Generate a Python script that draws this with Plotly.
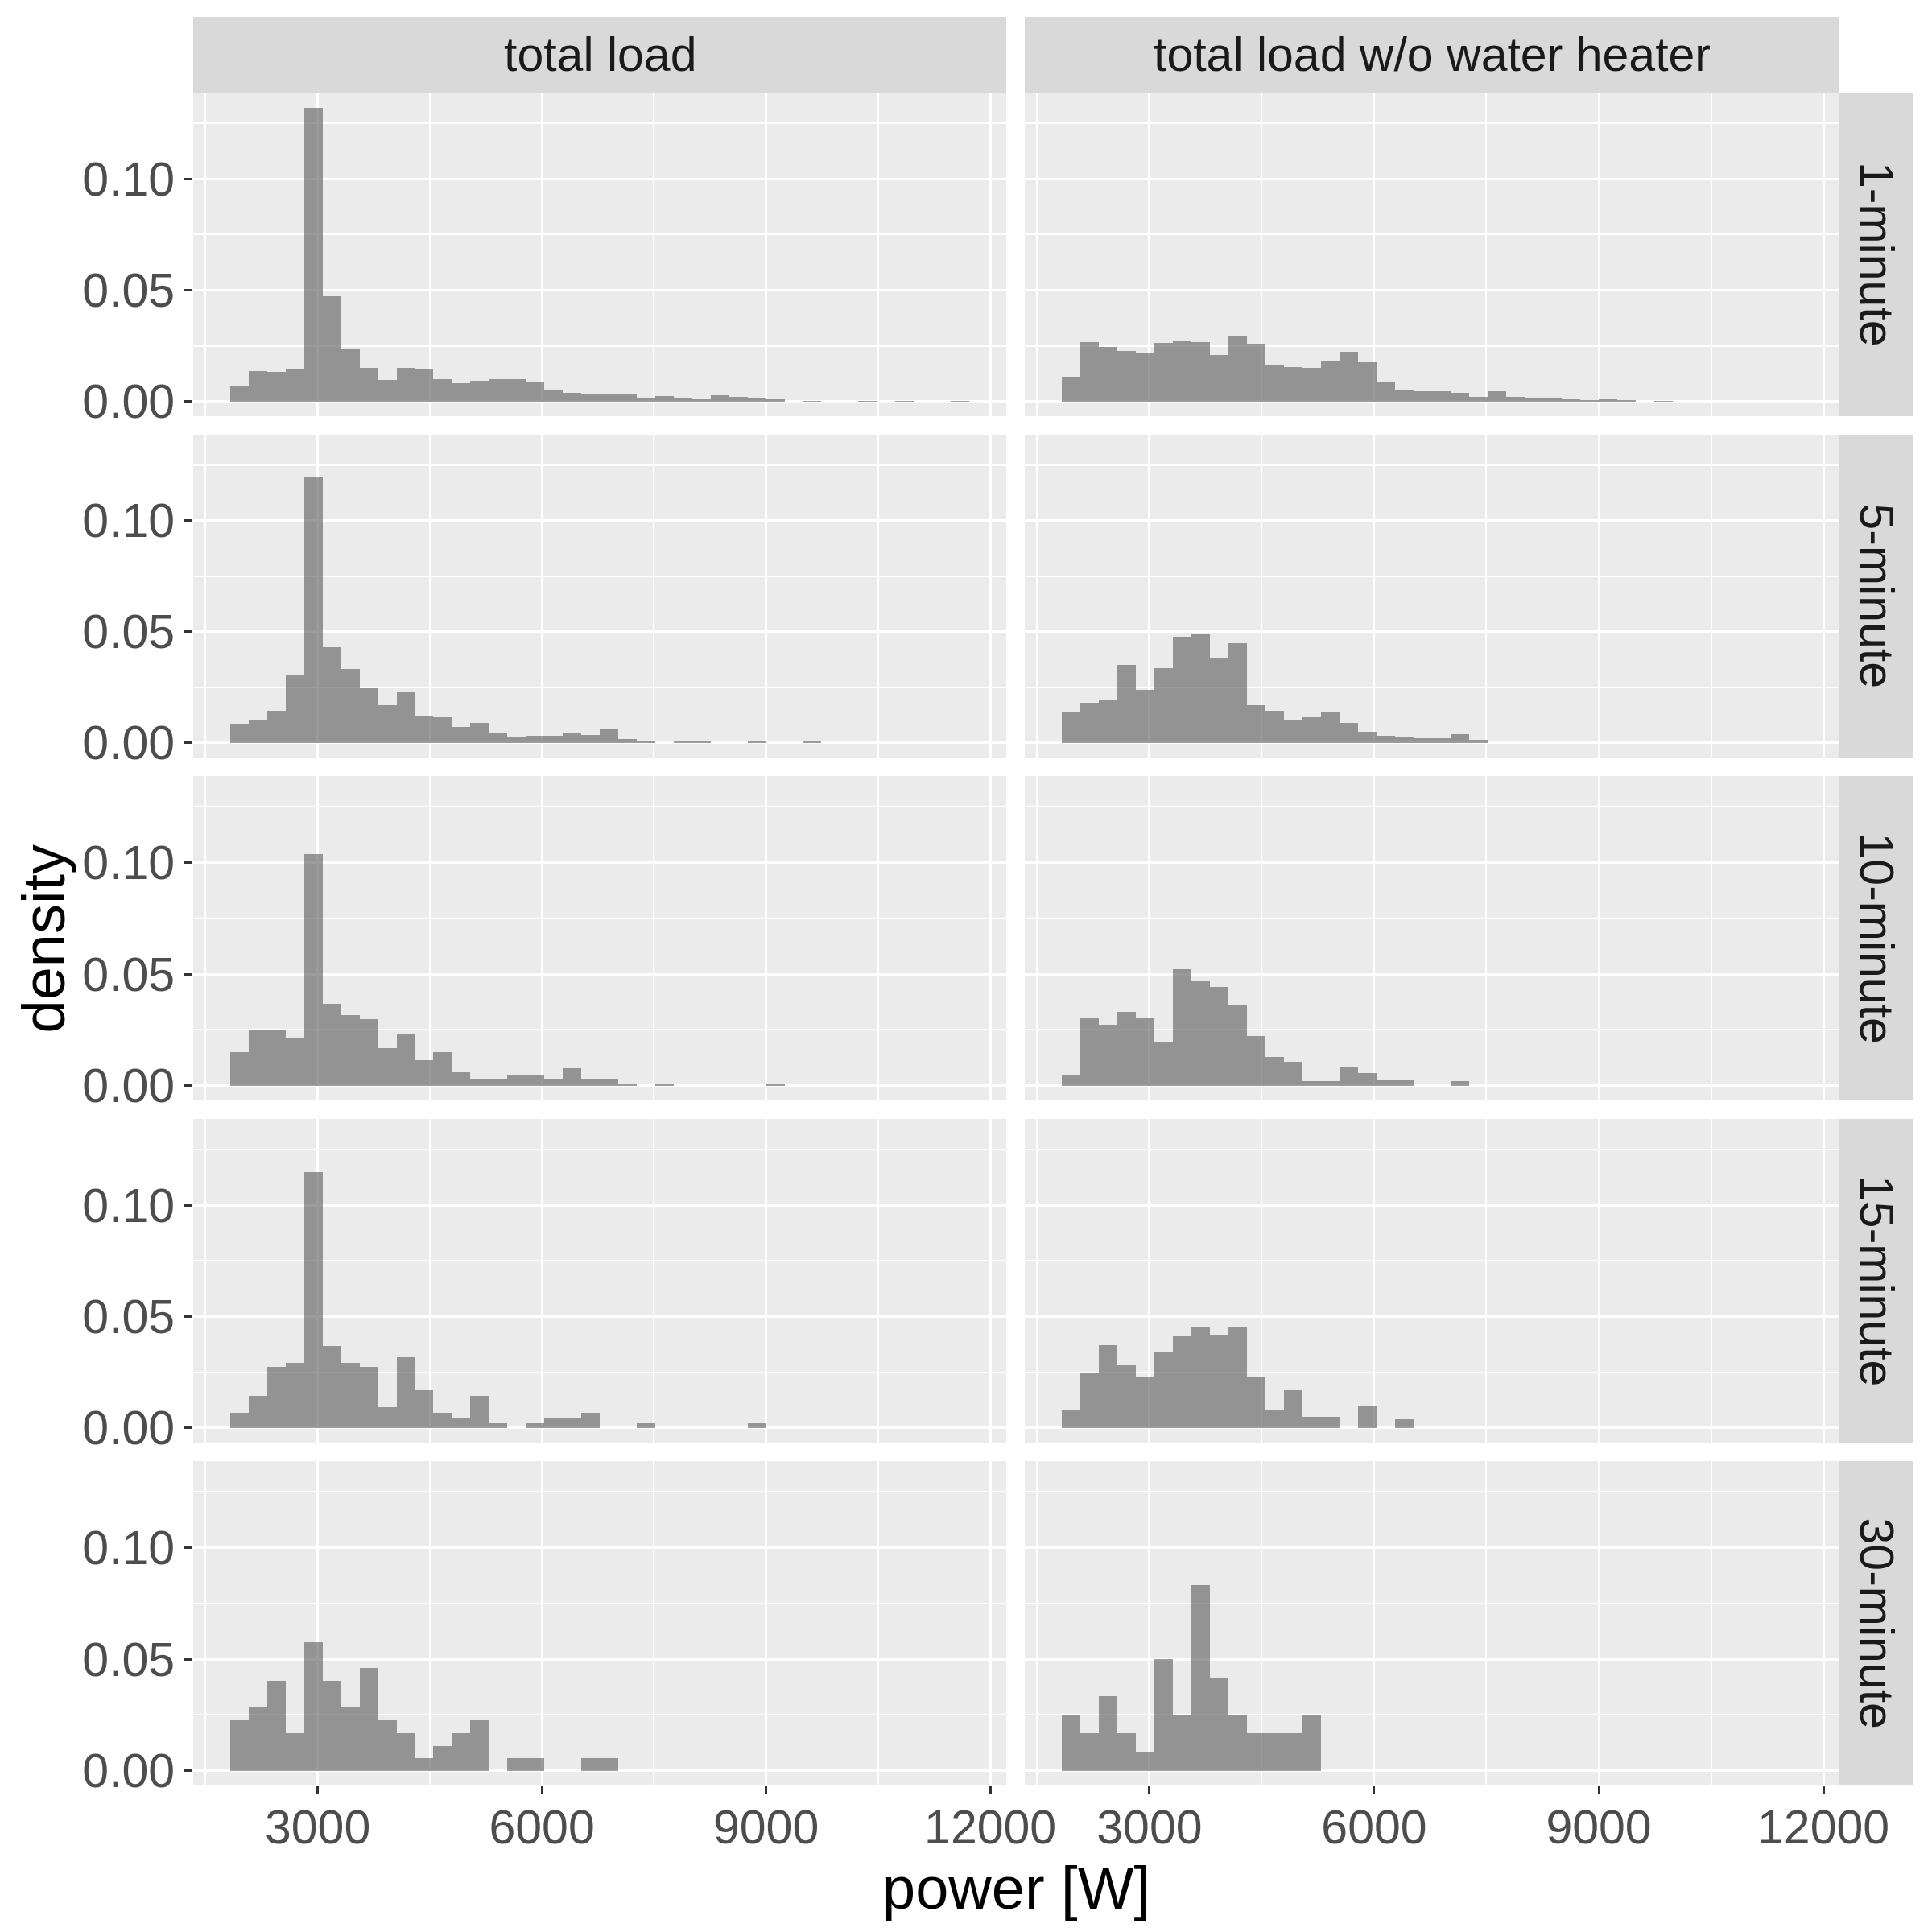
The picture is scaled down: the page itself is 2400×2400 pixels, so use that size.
import plotly.graph_objects as go

# ---------------- data ----------------
col_labels = ["total load", "total load w/o water heater"]
row_labels = ["1-minute", "5-minute", "10-minute", "15-minute", "30-minute"]

bin_start = 1829.5      # left edge of first bin [W]
bin_width = 247.25      # bin width [W]
n_bins = 40

x_tick_vals = [3000, 6000, 9000, 12000]
x_tick_text = ["3000", "6000", "9000", "12000"]
x_minor_vals = [1500, 4500, 7500, 10500]
y_tick_vals = [0.0, 0.05, 0.10]
y_tick_text = ["0.00", "0.05", "0.10"]
y_minor_vals = [0.025, 0.075, 0.125]

# density per bin, total load
total_1min = [0.0069, 0.0138, 0.0134, 0.0145, 0.1320, 0.0474, 0.0239, 0.0152, 0.0098, 0.0152,
              0.0145, 0.0101, 0.0083, 0.0094, 0.0101, 0.0101, 0.0087, 0.0051, 0.0040, 0.0033,
              0.0036, 0.0036, 0.0014, 0.0025, 0.0013, 0.0010, 0.0028, 0.0021, 0.0013, 0.0010,
              0.0, 0.0004, 0.0, 0.0, 0.0004, 0.0, 0.0004, 0.0, 0.0, 0.0004]
total_5min = [0.0087, 0.0105, 0.0145, 0.0305, 0.1200, 0.0429, 0.0331, 0.0247, 0.0171, 0.0229,
              0.0124, 0.0116, 0.0073, 0.0091, 0.0047, 0.0025, 0.0033, 0.0033, 0.0047, 0.0036,
              0.0062, 0.0018, 0.0007, 0.0, 0.0007, 0.0007, 0.0, 0.0, 0.0007, 0.0,
              0.0, 0.0007, 0.0, 0.0, 0.0, 0.0, 0.0, 0.0, 0.0, 0.0]
total_10min = [0.0152, 0.0246, 0.0246, 0.0214, 0.1036, 0.0366, 0.0315, 0.0297, 0.0167, 0.0232,
               0.0116, 0.0152, 0.0062, 0.0033, 0.0033, 0.0051, 0.0051, 0.0033, 0.0080, 0.0033,
               0.0033, 0.0011, 0.0, 0.0011, 0.0, 0.0, 0.0, 0.0, 0.0, 0.0011,
               0.0, 0.0, 0.0, 0.0, 0.0, 0.0, 0.0, 0.0, 0.0, 0.0]
total_15min = [0.0066, 0.0144, 0.0272, 0.0293, 0.1150, 0.0369, 0.0293, 0.0272, 0.0093, 0.0318,
               0.0169, 0.0066, 0.0045, 0.0144, 0.0019, 0.0, 0.0019, 0.0045, 0.0045, 0.0066,
               0.0, 0.0, 0.0019, 0.0, 0.0, 0.0, 0.0, 0.0, 0.0019, 0.0,
               0.0, 0.0, 0.0, 0.0, 0.0, 0.0, 0.0, 0.0, 0.0, 0.0]
total_30min = [0.0227, 0.0285, 0.0401, 0.0169, 0.0576, 0.0401, 0.0285, 0.0459, 0.0227, 0.0169,
               0.0056, 0.0110, 0.0169, 0.0227, 0.0, 0.0056, 0.0056, 0.0, 0.0, 0.0056,
               0.0056, 0.0, 0.0, 0.0, 0.0, 0.0, 0.0, 0.0, 0.0, 0.0,
               0.0, 0.0, 0.0, 0.0, 0.0, 0.0, 0.0, 0.0, 0.0, 0.0]

# density per bin, total load without water heater
nowh_1min = [0.0112, 0.0268, 0.0246, 0.0228, 0.0217, 0.0264, 0.0272, 0.0268, 0.0210, 0.0293,
             0.0260, 0.0167, 0.0156, 0.0150, 0.0180, 0.0222, 0.0175, 0.0090, 0.0055, 0.0045,
             0.0045, 0.0040, 0.0020, 0.0045, 0.0020, 0.0015, 0.0015, 0.0010, 0.0007, 0.0010,
             0.0005, 0.0, 0.0004, 0.0, 0.0, 0.0, 0.0, 0.0, 0.0, 0.0]
nowh_5min = [0.0142, 0.0182, 0.0193, 0.0349, 0.0240, 0.0338, 0.0476, 0.0490, 0.0380, 0.0447,
             0.0171, 0.0145, 0.0100, 0.0117, 0.0140, 0.0090, 0.0050, 0.0033, 0.0030, 0.0022,
             0.0022, 0.0040, 0.0015, 0.0, 0.0, 0.0, 0.0, 0.0, 0.0, 0.0,
             0.0, 0.0, 0.0, 0.0, 0.0, 0.0, 0.0, 0.0, 0.0, 0.0]
nowh_10min = [0.0051, 0.0302, 0.0273, 0.0330, 0.0300, 0.0193, 0.0523, 0.0468, 0.0443, 0.0363,
              0.0221, 0.0128, 0.0106, 0.0022, 0.0022, 0.0083, 0.0056, 0.0028, 0.0028, 0.0,
              0.0, 0.0022, 0.0, 0.0, 0.0, 0.0, 0.0, 0.0, 0.0, 0.0,
              0.0, 0.0, 0.0, 0.0, 0.0, 0.0, 0.0, 0.0, 0.0, 0.0]
nowh_15min = [0.0083, 0.0250, 0.0370, 0.0280, 0.0230, 0.0340, 0.0410, 0.0456, 0.0420, 0.0456,
              0.0230, 0.0078, 0.0170, 0.0048, 0.0048, 0.0, 0.0095, 0.0, 0.0038, 0.0,
              0.0, 0.0, 0.0, 0.0, 0.0, 0.0, 0.0, 0.0, 0.0, 0.0,
              0.0, 0.0, 0.0, 0.0, 0.0, 0.0, 0.0, 0.0, 0.0, 0.0]
nowh_30min = [0.0250, 0.0167, 0.0333, 0.0167, 0.0083, 0.0500, 0.0250, 0.0833, 0.0417, 0.0250,
              0.0167, 0.0167, 0.0167, 0.0250, 0.0, 0.0, 0.0, 0.0, 0.0, 0.0,
              0.0, 0.0, 0.0, 0.0, 0.0, 0.0, 0.0, 0.0, 0.0, 0.0,
              0.0, 0.0, 0.0, 0.0, 0.0, 0.0, 0.0, 0.0, 0.0, 0.0]

panel_data = [
    [total_1min, nowh_1min],
    [total_5min, nowh_5min],
    [total_10min, nowh_10min],
    [total_15min, nowh_15min],
    [total_30min, nowh_30min],
]

# ---------------- layout geometry (pixels in a 2400x2400 canvas) ----------------
W = H = 2400
col_px = [(240, 1250), (1273, 2285)]
row_px = [(115, 517), (540, 941), (964, 1367), (1390, 1792), (1815, 2218)]
strip_top = (21, 115)
strip_right = (2285, 2377)

FONT = "Liberation Sans, Arial, sans-serif"
TICK_SIZE = 59
TITLE_SIZE = 74
BAR_FILL = "rgba(89,89,89,0.6)"

x_range = [1335, 12214]
y_range = [-0.0066, 0.1387]

centers = [bin_start + (i + 0.5) * bin_width for i in range(n_bins)]

fig = go.Figure()
layout = dict(
    template="none",
    width=W, height=H, autosize=False,
    margin=dict(l=0, r=0, t=0, b=0, pad=0, autoexpand=False),
    paper_bgcolor="white", plot_bgcolor="#EBEBEB",
    showlegend=False, bargap=0, barmode="overlay",
)

for r in range(5):
    for c in range(2):
        i = r * 2 + c
        sfx = "" if i == 0 else str(i + 1)
        fig.add_trace(go.Bar(
            x=centers, y=panel_data[r][c], width=bin_width,
            marker=dict(color=BAR_FILL, line=dict(width=0)),
            xaxis="x" + sfx, yaxis="y" + sfx, hoverinfo="skip",
        ))
        x0, x1 = col_px[c]
        y0, y1 = row_px[r]
        bottom = (r == 4)
        left = (c == 0)
        layout["xaxis" + sfx] = dict(
            domain=[x0 / W, x1 / W], anchor="y" + sfx, range=x_range, automargin=False,
            tickmode="array", tickvals=x_tick_vals, ticktext=x_tick_text,
            showticklabels=bottom, ticks="outside" if bottom else "",
            ticklen=10, tickwidth=3, tickcolor="#333333", ticklabelstandoff=-10,
            tickfont=dict(family=FONT, size=TICK_SIZE, color="#4D4D4D"),
            showgrid=True, gridcolor="white", gridwidth=3.2,
            minor=dict(tickmode="array", tickvals=x_minor_vals, showgrid=True,
                       gridcolor="white", gridwidth=1.6, ticks=""),
            zeroline=False, showline=False, fixedrange=True,
        )
        layout["yaxis" + sfx] = dict(
            domain=[1 - y1 / H, 1 - y0 / H], anchor="x" + sfx, range=y_range, automargin=False,
            tickmode="array", tickvals=y_tick_vals, ticktext=y_tick_text,
            showticklabels=left, ticks="outside" if left else "",
            ticklen=10, tickwidth=3, tickcolor="#333333",
            tickfont=dict(family=FONT, size=TICK_SIZE, color="#4D4D4D"),
            showgrid=True, gridcolor="white", gridwidth=3.2,
            minor=dict(tickmode="array", tickvals=y_minor_vals, showgrid=True,
                       gridcolor="white", gridwidth=1.6, ticks=""),
            zeroline=False, showline=False, fixedrange=True,
        )

shapes = []
annotations = []
# top strips
for c in range(2):
    x0, x1 = col_px[c]
    shapes.append(dict(type="rect", xref="paper", yref="paper",
                       x0=x0 / W, x1=x1 / W, y0=1 - strip_top[1] / H, y1=1 - strip_top[0] / H,
                       fillcolor="#D9D9D9", line=dict(width=0), layer="below"))
    annotations.append(dict(xref="paper", yref="paper",
                            x=(x0 + x1) / 2 / W, y=1 - (strip_top[0] + strip_top[1]) / 2 / H,
                            text=col_labels[c], showarrow=False, xanchor="center", yanchor="middle",
                            font=dict(family=FONT, size=TICK_SIZE, color="#1A1A1A")))
# right strips
for r in range(5):
    y0, y1 = row_px[r]
    shapes.append(dict(type="rect", xref="paper", yref="paper",
                       x0=strip_right[0] / W, x1=strip_right[1] / W, y0=1 - y1 / H, y1=1 - y0 / H,
                       fillcolor="#D9D9D9", line=dict(width=0), layer="below"))
    annotations.append(dict(xref="paper", yref="paper",
                            x=(strip_right[0] + strip_right[1]) / 2 / W, y=1 - (y0 + y1) / 2 / H,
                            text=row_labels[r], showarrow=False, textangle=90,
                            xanchor="center", yanchor="middle",
                            font=dict(family=FONT, size=TICK_SIZE, color="#1A1A1A")))
# axis titles
annotations.append(dict(xref="paper", yref="paper", x=(240 + 2285) / 2 / W, y=1 - 2345 / H,
                        text="power [W]", showarrow=False, xanchor="center", yanchor="middle",
                        font=dict(family=FONT, size=TITLE_SIZE, color="black")))
annotations.append(dict(xref="paper", yref="paper", x=54 / W, y=1 - (115 + 2218) / 2 / H,
                        text="density", showarrow=False, textangle=-90,
                        xanchor="center", yanchor="middle",
                        font=dict(family=FONT, size=TITLE_SIZE, color="black")))

layout["shapes"] = shapes
layout["annotations"] = annotations
fig.update_layout(**layout)
fig.write_html("out.html", config={"responsive": False, "displayModeBar": False},
               post_script="document.body.style.margin='0px';document.body.style.padding='0px';")
